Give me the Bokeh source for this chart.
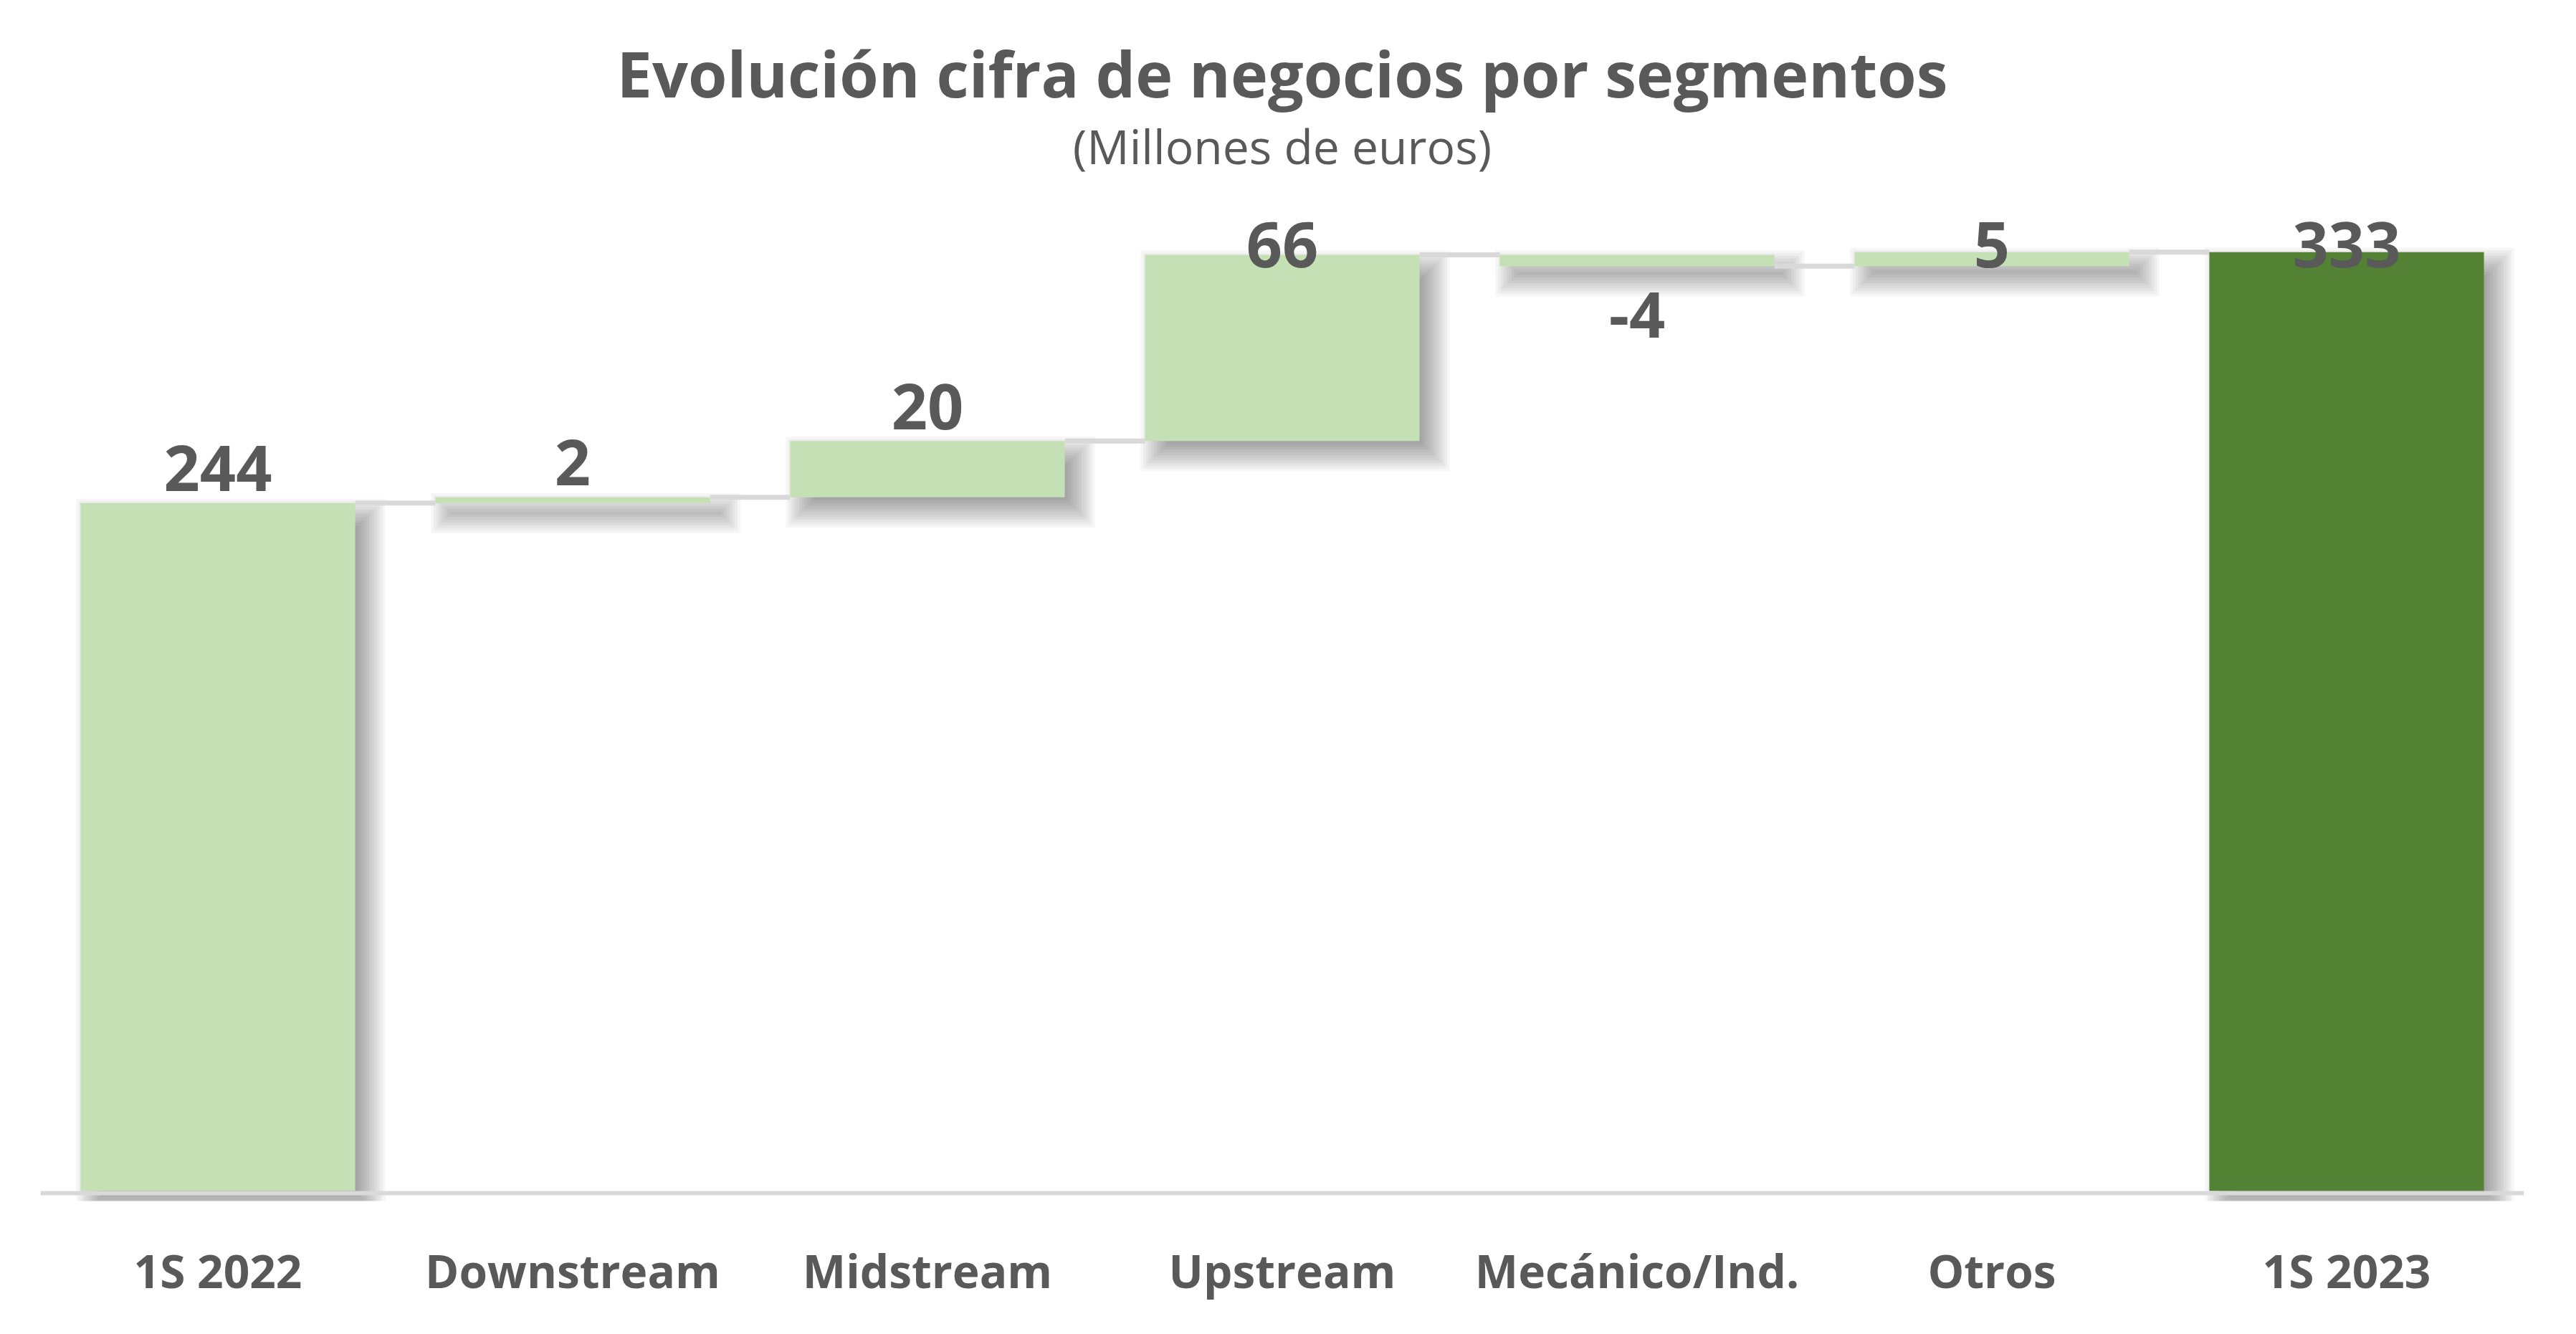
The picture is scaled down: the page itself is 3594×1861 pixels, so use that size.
from bokeh.plotting import figure
from bokeh.models import Range1d, FixedTicker
from bokeh.core.properties import value
from bokeh.embed import file_html
from bokeh.resources import INLINE

# Chart data
categories = ["1S 2022", "Downstream", "Midstream", "Upstream", "Mecánico/Ind.", "Otros", "1S 2023"]
changes = [244, 2, 20, 66, -4, 5, 333]
is_total = [True, False, False, False, False, False, True]

title_text = "Evolución cifra de negocios por segmentos"
subtitle_text = "(Millones de euros)"

# Styling
LIGHT_GREEN = "#c5e0b4"
DARK_GREEN = "#548235"
TEXT_GREY = "#595959"
LINE_GREY = "#d9d9d9"
FONT = "Open Sans"

W, H = 3578, 1845
BORDER_L, BORDER_R, BORDER_T, BORDER_B = 56, 57, 9, 170
Y_START, Y_END = -3.6, 420
BAR_WIDTH = 0.774

n = len(categories)
px_x = (W - BORDER_L - BORDER_R) / n
px_y = (H - BORDER_T - BORDER_B) / (Y_END - Y_START)

# Waterfall geometry
centers = [i + 0.5 for i in range(n)]
bottoms, tops, levels = [], [], []
running = 0
for v, tot in zip(changes, is_total):
    if tot:
        b, t = 0, v
        running = v
    else:
        b, t = min(running, running + v), max(running, running + v)
        running += v
    bottoms.append(b)
    tops.append(t)
    levels.append(running)

lefts = [c - BAR_WIDTH / 2 for c in centers]
rights = [c + BAR_WIDTH / 2 for c in centers]
colors = [DARK_GREEN if (tot and i == n - 1) else LIGHT_GREEN for i, tot in enumerate(is_total)]

p = figure(width=W, height=H, output_backend="svg", toolbar_location=None,
           x_range=Range1d(0, n), y_range=Range1d(Y_START, Y_END),
           y_axis_location=None,
           min_border_left=BORDER_L, min_border_right=BORDER_R,
           min_border_top=BORDER_T, min_border_bottom=BORDER_B)
p.outline_line_color = None
p.xgrid.visible = False
p.ygrid.visible = False
p.background_fill_color = "white"

# soft drop shadow: offset bottom-right, edges ramped with stacked layers
off, blur, layers = 18, 26, 14
for k in range(layers):
    e = -blur + 2 * blur * (k + 0.5) / layers
    sl, sr, sb, st = [], [], [], []
    for l, r, b, t in zip(lefts, rights, bottoms, tops):
        l2, r2 = l + (off - e) / px_x, r + (off + e) / px_x
        b2, t2 = b - (off + e) / px_y, t - (off - e) / px_y
        if t2 < b2:
            b2 = t2 = (b2 + t2) / 2
        sl.append(l2); sr.append(r2); sb.append(b2); st.append(t2)
    p.quad(left=sl, right=sr, bottom=sb, top=st,
           fill_color="black", fill_alpha=0.034, line_color=None)

# axis baseline, just under the bars
p.hspan(y=[-3 / px_y], line_color=LINE_GREY, line_width=6)

# connectors between bars
p.segment(x0=rights[:-1], x1=lefts[1:], y0=levels[:-1], y1=levels[:-1],
          line_color=LINE_GREY, line_width=7)

p.quad(left=lefts, right=rights, bottom=bottoms, top=tops,
       fill_color=colors, line_color=None)

# value labels
ceiling = 335.5  # labels kept inside the plot area
label_y = []
for v, b, t in zip(changes, bottoms, tops):
    if v >= 0:
        label_y.append(min(t + 48 / px_y, ceiling))
    else:
        label_y.append(b - 68 / px_y)
p.text(x=centers, y=label_y, text=[str(v) for v in changes],
       text_font=value(FONT), text_font_style="bold", text_font_size="88px",
       text_color=TEXT_GREY, text_align="center", text_baseline="middle")

# title and subtitle
p.text(x=[n / 2], y=[396.5], text=[title_text], text_font=value(FONT),
       text_font_style="bold", text_font_size="88px", text_color=TEXT_GREY,
       text_align="center", text_baseline="middle")
p.text(x=[n / 2], y=[370.9], text=[subtitle_text], text_font=value(FONT),
       text_font_size="66px", text_color=TEXT_GREY,
       text_align="center", text_baseline="middle")

# category axis
p.xaxis.ticker = FixedTicker(ticks=centers)
p.xaxis.major_label_overrides = {c: cat for c, cat in zip(centers, categories)}
p.xaxis.axis_line_color = None
p.xaxis.major_tick_line_color = None
p.xaxis.minor_tick_line_color = None
p.xaxis.major_label_standoff = 47
p.xaxis.major_label_text_font = FONT
p.xaxis.major_label_text_font_style = "bold"
p.xaxis.major_label_text_font_size = "64px"
p.xaxis.major_label_text_color = TEXT_GREY

open("out.html", "w").write(file_html(p, INLINE))
